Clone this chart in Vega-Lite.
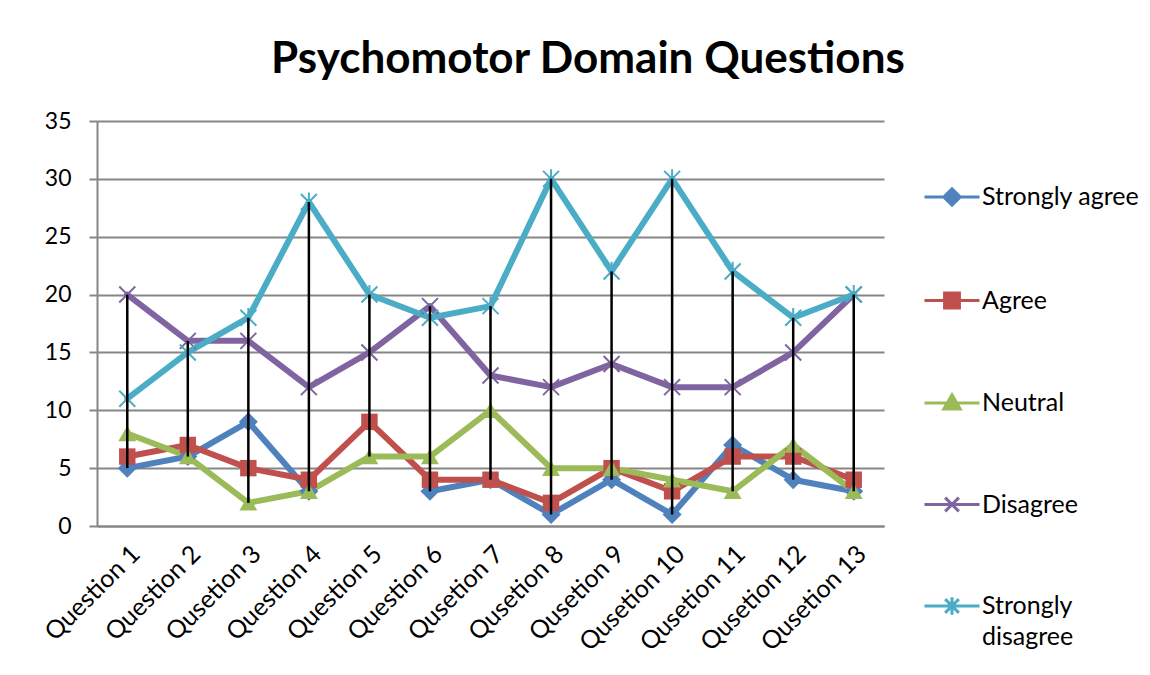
{
  "$schema": "https://vega.github.io/schema/vega-lite/v6.json",
  "width": 787,
  "height": 405,
  "padding": {"left": 35, "top": 38, "right": 5, "bottom": 5},
  "background": "white",
  "title": {"text": "Psychomotor Domain Questions", "font": "Lato", "fontSize": 44, "fontWeight": "bold", "color": "black", "anchor": "middle", "frame": "bounds", "offset": 28},
  "config": {
    "font": "Lato",
    "view": {"stroke": null},
    "legend": {
      "orient": "none", "legendX": 826, "legendY": 47, "padding": 0,
      "labelFont": "Lato", "labelFontSize": 25, "labelColor": "black", "labelOffset": 1,
      "symbolSize": 3025, "symbolStrokeWidth": 3, "rowPadding": 59.5, "labelLimit": 300
    }
  },
  "datasets": {
    "d": [
      {"q": "Question  1", "series": "Strongly agree", "value": 5},
      {"q": "Question 2", "series": "Strongly agree", "value": 6},
      {"q": "Qusetion  3", "series": "Strongly agree", "value": 9},
      {"q": "Question  4", "series": "Strongly agree", "value": 3},
      {"q": "Question 5", "series": "Strongly agree", "value": null},
      {"q": "Question 6", "series": "Strongly agree", "value": 3},
      {"q": "Qusetion 7", "series": "Strongly agree", "value": 4},
      {"q": "Qusetion 8", "series": "Strongly agree", "value": 1},
      {"q": "Qusetion 9", "series": "Strongly agree", "value": 4},
      {"q": "Qusetion 10", "series": "Strongly agree", "value": 1},
      {"q": "Qusetion 11", "series": "Strongly agree", "value": 7},
      {"q": "Qusetion 12", "series": "Strongly agree", "value": 4},
      {"q": "Qusetion 13", "series": "Strongly agree", "value": 3},
      {"q": "Question  1", "series": "Agree", "value": 6},
      {"q": "Question 2", "series": "Agree", "value": 7},
      {"q": "Qusetion  3", "series": "Agree", "value": 5},
      {"q": "Question  4", "series": "Agree", "value": 4},
      {"q": "Question 5", "series": "Agree", "value": 9},
      {"q": "Question 6", "series": "Agree", "value": 4},
      {"q": "Qusetion 7", "series": "Agree", "value": 4},
      {"q": "Qusetion 8", "series": "Agree", "value": 2},
      {"q": "Qusetion 9", "series": "Agree", "value": 5},
      {"q": "Qusetion 10", "series": "Agree", "value": 3},
      {"q": "Qusetion 11", "series": "Agree", "value": 6},
      {"q": "Qusetion 12", "series": "Agree", "value": 6},
      {"q": "Qusetion 13", "series": "Agree", "value": 4},
      {"q": "Question  1", "series": "Neutral", "value": 8},
      {"q": "Question 2", "series": "Neutral", "value": 6},
      {"q": "Qusetion  3", "series": "Neutral", "value": 2},
      {"q": "Question  4", "series": "Neutral", "value": 3},
      {"q": "Question 5", "series": "Neutral", "value": 6},
      {"q": "Question 6", "series": "Neutral", "value": 6},
      {"q": "Qusetion 7", "series": "Neutral", "value": 10},
      {"q": "Qusetion 8", "series": "Neutral", "value": 5},
      {"q": "Qusetion 9", "series": "Neutral", "value": 5},
      {"q": "Qusetion 10", "series": "Neutral", "value": 4},
      {"q": "Qusetion 11", "series": "Neutral", "value": 3},
      {"q": "Qusetion 12", "series": "Neutral", "value": 7},
      {"q": "Qusetion 13", "series": "Neutral", "value": 3},
      {"q": "Question  1", "series": "Disagree", "value": 20},
      {"q": "Question 2", "series": "Disagree", "value": 16},
      {"q": "Qusetion  3", "series": "Disagree", "value": 16},
      {"q": "Question  4", "series": "Disagree", "value": 12},
      {"q": "Question 5", "series": "Disagree", "value": 15},
      {"q": "Question 6", "series": "Disagree", "value": 19},
      {"q": "Qusetion 7", "series": "Disagree", "value": 13},
      {"q": "Qusetion 8", "series": "Disagree", "value": 12},
      {"q": "Qusetion 9", "series": "Disagree", "value": 14},
      {"q": "Qusetion 10", "series": "Disagree", "value": 12},
      {"q": "Qusetion 11", "series": "Disagree", "value": 12},
      {"q": "Qusetion 12", "series": "Disagree", "value": 15},
      {"q": "Qusetion 13", "series": "Disagree", "value": 20},
      {"q": "Question  1", "series": "Strongly disagree", "value": 11},
      {"q": "Question 2", "series": "Strongly disagree", "value": 15},
      {"q": "Qusetion  3", "series": "Strongly disagree", "value": 18},
      {"q": "Question  4", "series": "Strongly disagree", "value": 28},
      {"q": "Question 5", "series": "Strongly disagree", "value": 20},
      {"q": "Question 6", "series": "Strongly disagree", "value": 18},
      {"q": "Qusetion 7", "series": "Strongly disagree", "value": 19},
      {"q": "Qusetion 8", "series": "Strongly disagree", "value": 30},
      {"q": "Qusetion 9", "series": "Strongly disagree", "value": 22},
      {"q": "Qusetion 10", "series": "Strongly disagree", "value": 30},
      {"q": "Qusetion 11", "series": "Strongly disagree", "value": 22},
      {"q": "Qusetion 12", "series": "Strongly disagree", "value": 18},
      {"q": "Qusetion 13", "series": "Strongly disagree", "value": 20}
    ]
  },
  "data": {"name": "d"},
  "encoding": {
    "x": {
      "field": "q", "type": "ordinal",
      "scale": {"domain": ["Question  1", "Question 2", "Qusetion  3", "Question  4", "Question 5", "Question 6", "Qusetion 7", "Qusetion 8", "Qusetion 9", "Qusetion 10", "Qusetion 11", "Qusetion 12", "Qusetion 13"]},
      "axis": {"title": null, "labelAngle": -45, "ticks": false, "labelPadding": 15, "labelFont": "Lato", "labelFontSize": 25, "labelColor": "black", "domain": true, "domainColor": "#868686", "domainWidth": 2, "grid": false}
    },
    "y": {
      "field": "value", "type": "quantitative",
      "scale": {"domain": [0, 35], "nice": false},
      "axis": {"title": null, "values": [0, 5, 10, 15, 20, 25, 30, 35], "labelFont": "Lato", "labelFontSize": 23, "labelColor": "black", "grid": true, "gridColor": "#868686", "gridWidth": 2, "domainColor": "#868686", "domainWidth": 2, "tickColor": "#868686", "tickWidth": 2, "tickSize": 8, "labelPadding": 18}
    }
  },
  "layer": [
    {
      "mark": {"type": "line", "strokeWidth": 6, "strokeJoin": "round", "strokeCap": "round"},
      "encoding": {
        "color": {"field": "series", "type": "nominal",
          "scale": {"domain": ["Strongly agree", "Agree", "Neutral", "Disagree", "Strongly disagree"], "range": ["#4F81BD", "#C0504D", "#9BBB59", "#8064A2", "#4BACC6"]},
          "legend": {"title": null, "labelExpr": "datum.label == 'Strongly disagree' ? ['Strongly', 'disagree'] : datum.label",
            "encode": {
              "symbols": {"update": {"fill": {"scale": "color", "field": "value"}, "opacity": {"value": 1}}},
              "labels": {"update": {"lineHeight": {"value": 31}}}
            }}}
      }
    },
    {
      "transform": [{"filter": "datum.series == 'Strongly agree'"}],
      "mark": {"type": "point", "shape": "diamond", "size": 361, "filled": true, "opacity": 1},
      "encoding": {"color": {"field": "series", "type": "nominal"}}
    },
    {
      "transform": [{"filter": "datum.series == 'Agree'"}],
      "mark": {"type": "point", "shape": "square", "size": 270, "filled": true, "opacity": 1},
      "encoding": {"color": {"field": "series", "type": "nominal"}}
    },
    {
      "transform": [{"filter": "datum.series == 'Neutral'"}],
      "mark": {"type": "point", "shape": "triangle-up", "size": 320, "filled": true, "opacity": 1},
      "encoding": {"color": {"field": "series", "type": "nominal"}}
    },
    {
      "transform": [{"filter": "datum.series == 'Disagree'"}],
      "mark": {"type": "point", "shape": "M-1,-1L1,1M-1,1L1,-1", "size": 256, "filled": false, "strokeWidth": 2, "opacity": 1},
      "encoding": {"color": {"field": "series", "type": "nominal"}}
    },
    {
      "transform": [{"filter": "datum.series == 'Strongly disagree'"}],
      "mark": {"type": "point", "shape": "M-1,-1L1,1M-1,1L1,-1M0,-1.2L0,1.2", "size": 256, "filled": false, "strokeWidth": 2, "opacity": 1},
      "encoding": {"color": {"field": "series", "type": "nominal"}}
    },
    {
      "mark": {"type": "rule", "color": "black", "strokeWidth": 2.5},
      "encoding": {
        "y": {"aggregate": "max", "field": "value", "type": "quantitative"},
        "y2": {"aggregate": "min", "field": "value"}
      }
    },
    {
      "transform": [{"filter": "false"}],
      "mark": {"type": "point", "filled": false, "opacity": 1, "strokeWidth": 3},
      "encoding": {
        "color": {"field": "series", "type": "nominal"},
        "shape": {"field": "series", "type": "nominal",
          "scale": {"domain": ["Strongly agree", "Agree", "Neutral", "Disagree", "Strongly disagree"],
            "range": [
              "M-1,0H1M0,-0.3L0.3,0L0,0.3L-0.3,0Z",
              "M-1,0H1M-0.27,-0.27H0.27V0.27H-0.27Z",
              "M-1,0H1M0,-0.3L0.3,0.22L-0.3,0.22Z",
              "M-1,0H1M-0.25,-0.25L0.25,0.25M-0.25,0.25L0.25,-0.25",
              "M-1,0H1M-0.25,-0.25L0.25,0.25M-0.25,0.25L0.25,-0.25M0,-0.32V0.32"
            ]},
          "legend": {"title": null, "labelExpr": "datum.label == 'Strongly disagree' ? ['Strongly', 'disagree'] : datum.label",
            "encode": {
              "symbols": {"update": {"fill": {"scale": "color", "field": "value"}, "opacity": {"value": 1}}},
              "labels": {"update": {"lineHeight": {"value": 31}}}
            }}}
      }
    }
  ]
}
